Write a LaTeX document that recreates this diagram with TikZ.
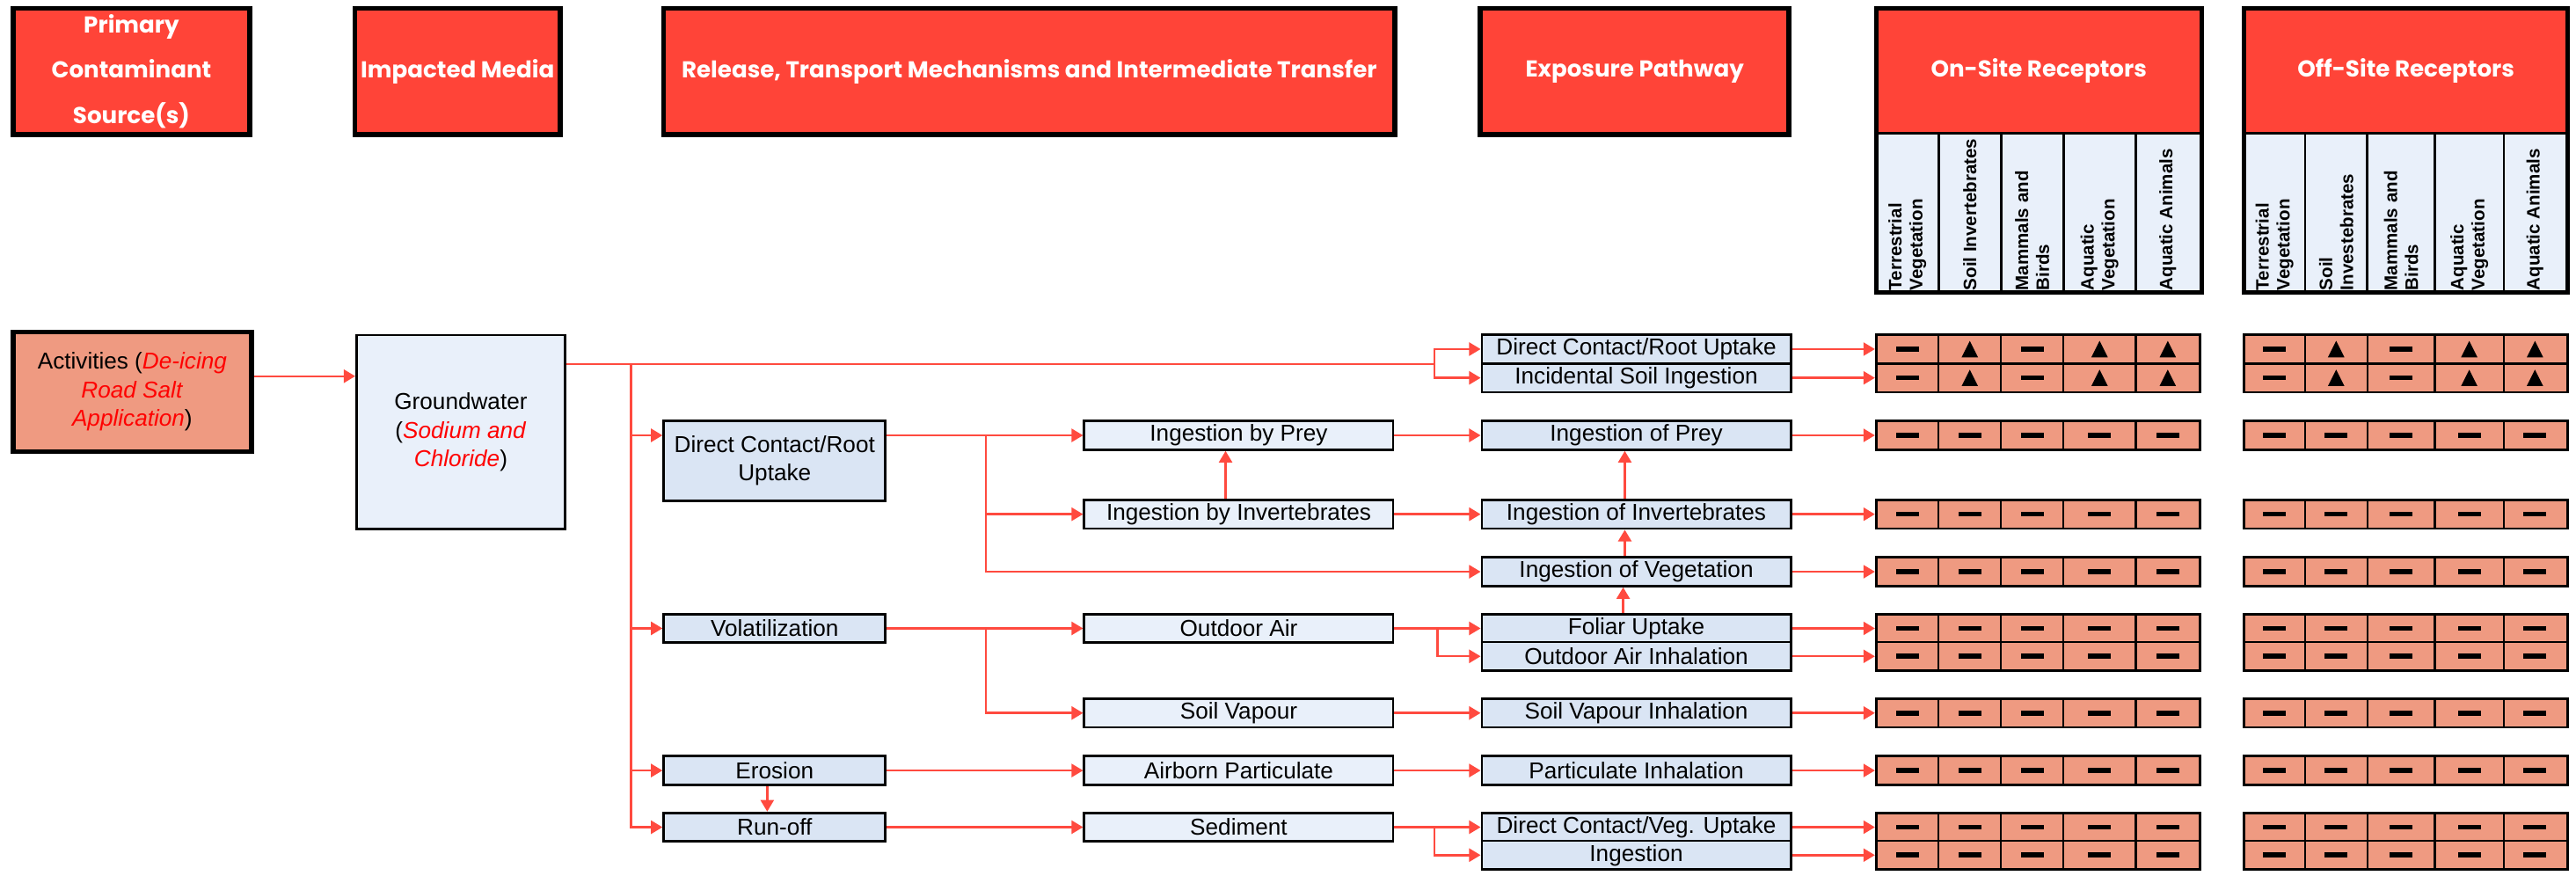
\documentclass[tikz,border=0pt]{standalone}
\usepackage{fontspec}
\setmainfont{Liberation Sans}
\newfontfamily\hdrfont{Poppins}
\usetikzlibrary{arrows.meta}

\definecolor{hdrred}{HTML}{FF4438}
\definecolor{linkred}{HTML}{FF4A3F}
\definecolor{salmon}{HTML}{EF9A81}
\definecolor{paleblue}{HTML}{E9F0FA}
\definecolor{midblue}{HTML}{DAE5F4}
\definecolor{txtred}{HTML}{FF0000}

\begin{document}
\begin{tikzpicture}[x=1pt,y=-1pt,
	hdr/.style={draw=black,line width=3pt,fill=hdrred,text=white,align=center,inner sep=0pt,
		minimum height=77pt,font=\hdrfont\bfseries\fontsize{14}{27.5}\selectfont},
	box/.style={draw=black,line width=1.5pt,align=center,inner sep=0pt,minimum height=17.5pt,
		font=\fontsize{14}{17.4}\selectfont},
	tbox/.style={box,fill=paleblue,minimum width=188pt},
	ebox/.style={box,fill=midblue,minimum width=188pt},
	rbox/.style={box,fill=midblue,minimum width=135pt},
	cellrow/.style={draw=black,line width=1.5pt,fill=salmon,minimum width=197pt,minimum height=17.5pt,inner sep=0pt},
	collab/.style={rotate=90,anchor=west,align=left,inner sep=0pt,font=\bfseries\fontsize{11}{12.7}\selectfont},
	link/.style={draw=linkred,line width=1.3pt},
	arr/.style={link,-{Triangle[length=7pt,width=8pt]}}]
	\useasboundingbox (0,0) rectangle (1568,537);

	% Column headers
	\node[hdr,minimum width=144pt] (hsrc) at (80,43.5) {Primary\\Contaminant\\Source(s)};
	\node[hdr,minimum width=125pt] (hmed) at (278.5,43.5) {Impacted Media};
	\node[hdr,minimum width=445pt] (hrel) at (626.5,43.5) {Release, Transport Mechanisms and Intermediate Transfer};
	\node[hdr,minimum width=188pt] (hexp) at (995,43.5) {Exposure Pathway};

	% Receptor headers with their columns
	\node[hdr,line width=1.4pt,minimum width=198pt,minimum height=76pt] (hon) at (1241,43) {On-Site Receptors};
	\node[hdr,line width=1.4pt,minimum width=197pt,minimum height=76pt] (hoff) at (1464.5,43) {Off-Site Receptors};
	\fill[paleblue] (1142,81) rectangle (1340,178) (1366,81) rectangle (1563,178);
	\foreach \x in {1180,1218,1256,1300,1403,1441,1482,1524}
		\draw[line width=1.4pt] (\x,81) -- (\x,178);
	\foreach \x/\lab [count=\i] in {1161/{Terrestrial\\Vegetation},1199/{Soil Invertebrates},
		1237/{Mammals and\\Birds},1278/{Aquatic\\Vegetation},1319.5/{Aquatic Animals}}
		\node[collab] (onlab\i) at (\x,177) {\lab};
	\foreach \x/\lab [count=\i] in {1384.5/{Terrestrial\\Vegetation},1422/{Soil\\Investebrates},
		1461.5/{Mammals and\\Birds},1503/{Aquatic\\Vegetation},1543/{Aquatic Animals}}
		\node[collab] (offlab\i) at (\x,177) {\lab};
	\draw[line width=1.4pt] (1142,81) -- (1340,81) (1366,81) -- (1563,81);
	\draw[line width=2.6pt] (1142,5) rectangle (1340,178) (1366,5) rectangle (1563,178);

	% Source and medium
	\node[box,fill=salmon,line width=3pt,minimum width=145pt,minimum height=73pt] (act) at (80.5,238.5)
		{Activities (\textcolor{txtred}{\textit{De-icing}}\\\textcolor{txtred}{\textit{Road Salt}}\\\textcolor{txtred}{\textit{Application}})};
	\node[box,fill=paleblue,minimum width=127pt,minimum height=118pt] (gw) at (280.5,263)
		{Groundwater\\(\textcolor{txtred}{\textit{Sodium and}}\\\textcolor{txtred}{\textit{Chloride}})};

	% Release and transport
	\node[rbox,minimum height=49pt] (rDCR) at (471.5,280.5) {Direct Contact/Root\\Uptake};
	\node[rbox] (rVOL) at (471.5,382.5) {Volatilization};
	\node[rbox] (rERO) at (471.5,469) {Erosion};
	\node[rbox] (rRUN) at (471.5,503.5) {Run-off};

	% Intermediate transfer
	\node[tbox] (tIBP) at (754,265) {Ingestion by Prey};
	\node[tbox] (tIBI) at (754,313) {Ingestion by Invertebrates};
	\node[tbox] (tOA) at (754,382.5) {Outdoor Air};
	\node[tbox] (tSV) at (754,434) {Soil Vapour};
	\node[tbox] (tAP) at (754,469) {Airborn Particulate};
	\node[tbox] (tSED) at (754,503.5) {Sediment};

	% Exposure pathways
	\foreach \n/\y/\txt in {DCR/212.5/{Direct Contact/Root Uptake},ISI/230/{Incidental Soil Ingestion},
		IOP/265/{Ingestion of Prey},IOI/313/{Ingestion of Invertebrates},IOV/348/{Ingestion of Vegetation},
		FU/382.5/{Foliar Uptake},OAI/399.5/{Outdoor Air Inhalation},SVI/434/{Soil Vapour Inhalation},
		PI/469/{Particulate Inhalation},DCV/503.5/{Direct Contact/Veg. Uptake},ING/520.5/{Ingestion}}
		\node[ebox] (e\n) at (996,\y) {\txt};

	% Receptor rows
	\foreach \n/\y in {DCR/212.5,ISI/230,IOP/265,IOI/313,IOV/348,FU/382.5,OAI/399.5,SVI/434,PI/469,DCV/503.5,ING/520.5}
	{\node[cellrow] (on\n) at (1240.5,\y) {};
		\node[cellrow] (off\n) at (1464.5,\y) {};
		\foreach \x in {1180,1218,1256,1300,1403,1441,1482,1524}
			\draw[line width=1.2pt] (\x,\y-8.75) -- (\x,\y+8.75);
		\draw[arr] (e\n.east) -- (on\n.west);}
	\foreach \y in {265,313,348,382.5,399.5,434,469,503.5,520.5}
		\foreach \x in {1161,1199,1237,1278,1319.5,1384.5,1422,1461.5,1503,1543}
			\fill (\x-7,\y-1.5) rectangle (\x+7,\y+1.5);
	\foreach \y in {212.5,230}
		{\foreach \x in {1161,1237,1384.5,1461.5}
			\fill (\x-7,\y-1.5) rectangle (\x+7,\y+1.5);
		\foreach \x in {1199,1278,1319.5,1422,1503,1543}
			\fill (\x-5,\y+5) -- (\x+5,\y+5) -- (\x,\y-5) -- cycle;}

	% Connectors
	\coordinate (a1) at ([yshift=9.5pt]act.east);
	\draw[arr] (a1) -- (a1 -| gw.west);
	\coordinate (tk) at (384,221.5);
	\coordinate (f1) at (873,221.5);
	\draw[link] (gw.east |- tk) -- (f1);
	\draw[arr] (f1) |- (eDCR.west);
	\draw[arr] (f1) |- (eISI.west);
	\draw[arr] (tk) |- (rRUN.west);
	\foreach \n in {rVOL,rERO}
		\draw[arr] (tk |- \n.west) -- (\n.west);
	\draw[arr] (tk |- tIBP.west) -- (rDCR.west |- tIBP.west);

	\coordinate (b1) at (600,265);
	\draw[arr] (rDCR.east |- tIBP.west) -- (tIBP.west);
	\draw[arr] (b1) |- (tIBI.west);
	\draw[arr] (b1) |- (eIOV.west);
	\draw[arr] ([xshift=-8pt]tIBI.north) -- ([xshift=-8pt]tIBP.south);
	\draw[arr] (tIBP.east) -- (eIOP.west);
	\draw[arr] (tIBI.east) -- (eIOI.west);
	\draw[arr] ([xshift=-7pt]eIOI.north) -- ([xshift=-7pt]eIOP.south);
	\draw[arr] ([xshift=-7pt]eIOV.north) -- ([xshift=-7pt]eIOI.south);
	\draw[arr] ([xshift=-8pt]eFU.north) -- ([xshift=-8pt]eIOV.south);

	\coordinate (b2) at (600,382.5);
	\coordinate (f2) at (875,382.5);
	\draw[arr] (rVOL.east) -- (tOA.west);
	\draw[arr] (b2) |- (tSV.west);
	\draw[arr] (tOA.east) -- (eFU.west);
	\draw[arr] (f2) |- (eOAI.west);
	\draw[arr] (tSV.east) -- (eSVI.west);
	\draw[arr] (rERO.east) -- (tAP.west);
	\draw[arr] (tAP.east) -- (ePI.west);
	\draw[arr] ([xshift=-4.5pt]rERO.south) -- ([xshift=-4.5pt]rRUN.north);
	\coordinate (f3) at (873,503.5);
	\draw[arr] (rRUN.east) -- (tSED.west);
	\draw[arr] (tSED.east) -- (eDCV.west);
	\draw[arr] (f3) |- (eING.west);
\end{tikzpicture}
\end{document}
